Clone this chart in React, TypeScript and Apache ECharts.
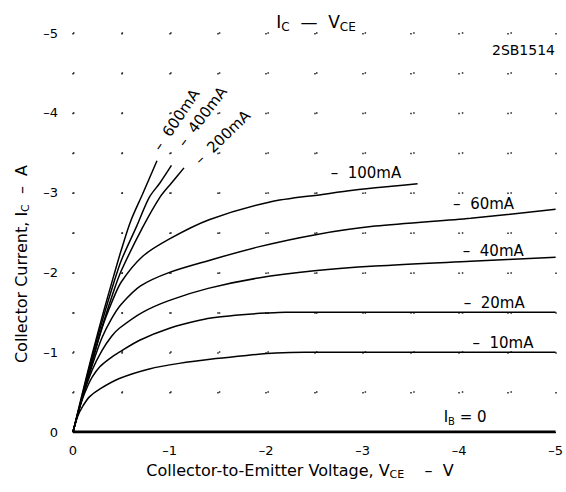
import React, { useEffect, useRef } from "react";
import * as echarts from "echarts";

type Pt = [number, number];

// PNP transistor: values read as magnitudes of V_CE (V) and I_C (A); plotted as negatives.
const ibNames = ["-10mA", "-20mA", "-40mA", "-60mA", "-100mA", "-200mA", "-400mA", "-600mA", "IB=0"];

const ib10mA: Pt[] = [[0, 0], [0.05, 0.2], [0.1, 0.32], [0.17, 0.44], [0.28, 0.54], [0.48, 0.67], [0.79, 0.79], [1.1, 0.86], [1.48, 0.92], [1.8, 0.96], [2.1, 0.99], [2.4, 1.0], [5, 1.0]];
const ib20mA: Pt[] = [[0, 0], [0.05, 0.23], [0.1, 0.42], [0.15, 0.57], [0.2, 0.69], [0.28, 0.82], [0.38, 0.92], [0.48, 1.0], [0.69, 1.15], [1.0, 1.3], [1.31, 1.4], [1.51, 1.44], [1.75, 1.47], [2.0, 1.49], [2.2, 1.5], [5, 1.5]];
const ib40mA: Pt[] = [[0, 0], [0.1, 0.44], [0.2, 0.78], [0.3, 1.02], [0.4, 1.2], [0.48, 1.3], [0.72, 1.5], [1.0, 1.65], [1.4, 1.8], [1.92, 1.93], [2.5, 2.02], [3.13, 2.08], [4.12, 2.14], [5, 2.19]];
const ib60mA: Pt[] = [[0, 0], [0.1, 0.45], [0.2, 0.84], [0.3, 1.18], [0.4, 1.42], [0.5, 1.6], [0.7, 1.83], [1.0, 2.0], [1.41, 2.15], [1.92, 2.32], [2.5, 2.47], [3.13, 2.58], [4.12, 2.68], [5, 2.79]];
const ib100mA: Pt[] = [[0, 0], [0.1, 0.45], [0.2, 0.88], [0.3, 1.3], [0.4, 1.62], [0.5, 1.88], [0.72, 2.2], [1.0, 2.42], [1.41, 2.66], [2.03, 2.88], [2.6, 2.98], [2.9, 3.03], [3.3, 3.08], [3.57, 3.11]];
const ib200mA: Pt[] = [[0, 0], [0.1, 0.46], [0.2, 0.9], [0.31, 1.35], [0.42, 1.76], [0.5, 2.02], [0.72, 2.56], [0.9, 2.94], [1.02, 3.12], [1.15, 3.31]];
const ib400mA: Pt[] = [[0, 0], [0.1, 0.48], [0.2, 0.95], [0.31, 1.42], [0.42, 1.86], [0.5, 2.15], [0.66, 2.58], [0.79, 2.94], [0.9, 3.12], [1.02, 3.34]];
const ib600mA: Pt[] = [[0, 0], [0.1, 0.5], [0.2, 0.98], [0.31, 1.48], [0.42, 1.95], [0.5, 2.28], [0.6, 2.65], [0.72, 2.98], [0.87, 3.4]];
const ib0: Pt[] = [[0, 0], [5, 0]];

const curves: Pt[][] = [ib10mA, ib20mA, ib40mA, ib60mA, ib100mA, ib200mA, ib400mA, ib600mA, ib0];

// curve labels: text, anchor V, anchor I (magnitudes), align, rotation (deg)
const labelTexts = ["–  10mA", "–  20mA", "–  40mA", "–  60mA", "–  100mA", "–  600mA", "–  400mA", "–  200mA"];
const labelV = [4.77, 4.68, 4.67, 4.57, 3.4, 1.07, 1.34, 1.55];
const labelI = [1.11, 1.62, 2.27, 2.86, 3.24, 3.91, 3.95, 3.69];
const labelAlign = ["right", "right", "right", "right", "right", "center", "center", "center"];
const labelRot = [0, 0, 0, 0, 0, 56, 53, 44];

const axisTicks = [0, 1, 2, 3, 4, 5];
const chartTag = "2SB1514";

const FONT = "'DejaVu Sans', Verdana, sans-serif";

const fmt = (v: number) => {
  const a = Math.abs(v);
  if (!axisTicks.includes(Math.round(a * 100) / 100)) return "";
  return a === 0 ? "0" : "–" + a;
};

export default function App() {
  const ref = useRef<HTMLDivElement>(null);
  useEffect(() => {
    document.body.style.margin = "0";
    const chart = echarts.init(ref.current!, null, { renderer: "svg" });
    const option: any = {
      animation: false,
      backgroundColor: "#fff",
      grid: { left: 73, right: 7, top: 33, bottom: 60 },
      xAxis: {
        type: "value",
        min: -5,
        max: 0,
        interval: 0.5,
        inverse: true,
        axisLine: { show: true, lineStyle: { color: "#000", width: 1 } },
        axisTick: { show: false },
        axisLabel: { formatter: fmt, color: "#000", fontSize: 13, fontFamily: FONT, margin: 12 },
        splitLine: { show: true, lineStyle: { color: "#222", width: 1.5, type: [1.5, 38.4] } },
      },
      yAxis: {
        type: "value",
        min: -5,
        max: 0,
        interval: 0.5,
        inverse: true,
        axisLine: { show: false },
        axisTick: { show: false },
        axisLabel: { formatter: fmt, color: "#000", fontSize: 13, fontFamily: FONT, margin: 15 },
        splitLine: { show: true, lineStyle: { color: "#222", width: 1.5, type: [1.5, 47.1] } },
      },
      series: curves.map((c, k) => ({
        name: ibNames[k],
        type: "line",
        data: c.map(([v, i]) => [-v, -i]),
        showSymbol: false,
        smooth: k === 8 ? false : 0.3,
        lineStyle: { color: "#000", width: k === 8 ? 3 : 1.5 },
        z: 3,
      })),
    };
    chart.setOption(option);

    const toPx = (v: number, i: number) => chart.convertToPixel({ gridIndex: 0 }, [-v, -i]) as number[];
    const lblStyle = { fill: "#000", fontSize: 15, fontFamily: FONT };
    const graphics: any[] = labelTexts.map((t, k) => {
      const [x, y] = toPx(labelV[k], labelI[k]);
      return {
        type: "text",
        x,
        y,
        rotation: (labelRot[k] * Math.PI) / 180,
        style: { ...lblStyle, text: t, align: labelAlign[k], verticalAlign: "middle" },
        z: 10,
      };
    });
    const [bx, by] = toPx(3.84, 0.19);
    const sub = (size: number) => ({ fontSize: size, fontFamily: FONT, fill: "#000", lineHeight: size, verticalAlign: "bottom" });
    const main = (size: number, lh: number) => ({ fontSize: size, fontFamily: FONT, fill: "#000", lineHeight: lh });
    graphics.push({
      type: "text",
      x: bx,
      y: by,
      style: {
        text: "{m|I}{s|B}{m| = 0}",
        align: "left",
        verticalAlign: "middle",
        rich: { m: main(15, 20), s: sub(10) },
      },
      z: 10,
    });
    // title
    graphics.push({
      type: "text",
      x: 316,
      y: 22,
      style: {
        text: "{m|I}{s|C}{m|  —  V}{s|CE}",
        align: "center",
        verticalAlign: "middle",
        rich: { m: main(17, 22), s: sub(12) },
      },
    });
    graphics.push({
      type: "text",
      x: 555,
      y: 50,
      style: { text: chartTag, align: "right", verticalAlign: "middle", fontSize: 14, fontFamily: FONT, fill: "#000" },
    });
    // axis names
    graphics.push({
      type: "text",
      x: 300,
      y: 470,
      style: {
        text: "{m|Collector-to-Emitter Voltage, V}{s|CE}{m|    –  V}",
        align: "center",
        verticalAlign: "middle",
        rich: { m: main(16, 20), s: sub(11) },
      },
    });
    graphics.push({
      type: "text",
      x: 21,
      y: 264,
      rotation: Math.PI / 2,
      style: {
        text: "{m|Collector Current, I}{s|C}{m|  –  A}",
        align: "center",
        verticalAlign: "middle",
        rich: { m: main(16, 20), s: sub(11) },
      },
    });
    chart.setOption({ graphic: graphics });
    return () => chart.dispose();
  }, []);
  return <div ref={ref} style={{ position: "fixed", left: 0, top: 0, width: 566, height: 492 }} />;
}
